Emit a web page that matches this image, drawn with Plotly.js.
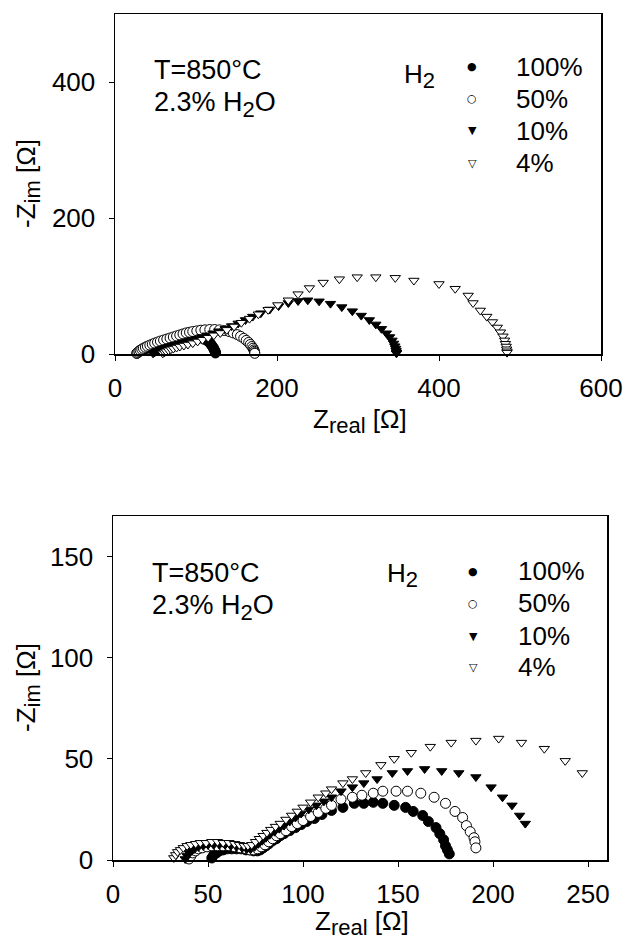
<!DOCTYPE html>
<html>
<head>
<meta charset="utf-8">
<script src="https://cdn.plot.ly/plotly-3.0.1.min.js"></script>
<style>html,body{margin:0;padding:0;background:#fff;}#chart{width:628px;height:942px;}</style>
</head>
<body>
<div id="chart"></div>
<script>
// ---------- data ----------
const legendLabels = ['100%', '50%', '10%', '4%'];

// top panel
const topH100_x = [27,28,29,30,32,34,36,39,42,45,48,52,56,60,64,68,72,76,80,84,88,92,96,100,104,108,111,114,116,118,119.5,121,122,123,123.5,124,124];
const topH100_y = [1,2,3,4,5,6,7,8,9,10,11,12.5,14,15.5,17,18.5,20,21,22,23,24,24.5,25,25,24.5,23,21.5,19.5,17.5,15,12.5,10,7.5,5.5,4,2.5,1.5];

const topH50_x = [27,28,29.5,31,33,35,37.5,40,43,46,49,52.5,56,60,64,68,72,76,80,84,88,92,96,101,106,111,117,123,129,135,141,146,151,155,159,162,165,167,169,170.5,171.5,172,172.5,172.5];
const topH50_y = [1,2.5,4,5.5,7,8.5,10,11.5,13,14.5,16,17.5,19,20.5,22,23.5,25,26.5,28,29.5,31,32,33,34,35,35.5,36,36,35.5,34.5,33,31,28.5,26,23,20,17,14,11,8.5,6,4,2,1];

const topH10_x = [47,49,51,53,56,59,62,66,70,74,79,84,89,95,101,107,114,121,128,136,144,152,161,170,180,191,202,214,226,238,252,266,280,293,304,314,322,329,335,339,342,344,345.5,346.5,347,347.5,347.5];
const topH10_y = [1,2.5,4,5,6.5,8,9,10.5,12,13.5,15,17,18.5,20.5,22.5,25,27.5,30.5,33.5,37,41,45,50,55,60,65.5,70.5,75,78,79,77.5,74,69,63,56.5,50,43.5,37,30.5,25,20,15.5,11.5,8,5,2.5,1];

const topH4_x = [59,61,63,66,69,72,76,80,85,90,96,102,108,115,122,130,138,147,156,166,177,189,201,214,226,240,257,277,299,322,346,369,400,420,436,442,451,459,466,472,476,479,481,482,483,483.5,484,484];
const topH4_y = [1,2.5,4,5.5,7,8,9.5,11,12.5,14,16,18.5,21,24,27.5,31,35.5,40.5,46,52,58.5,65,72,79,88,97,105,110,113,113,112,108,103,96,86,75,64,55,47,39,32,26,20,15,11,7,4,2];

// bottom panel
const botH100_x = [52,53,54.5,56,58,60,62.5,65,67.5,70,72,74,76,77.5,79,80.5,82,84,86,88,90,93,96,99,102,106,110,115,121,127,132,137,142,148,154,158,163,166,170,172,174,175,176,177];
const botH100_y = [1,2.5,3.5,4.5,5,5.5,5.5,5.5,5.5,5,5,4.5,4.5,5,6,7,8,9.5,10.5,12,13,14.5,16,17.5,19,20.5,22.5,24.5,26,28,28,28.5,28,27,26,24,22,19,16,13,10,7,5,3];

const botH50_x = [40,41,42,43.5,45,47,49.5,52,55,58,61,64,67,70,72,74,76,78,80,82,84,86,88,91,94,97,100,104,108,112,115,120,126,131,137,142,149,155,162,169,175,180,184,186,188,190,190.5,191];
const botH50_y = [0.5,2,3.5,4.5,5.5,6,6.5,7,7,7,7,6.5,6,5.5,5,5,5.5,6.5,7.5,9,10.5,12,13,14.5,16.5,18,19.5,21.5,23.5,25.5,27,30,31,32,33,34,34,34,33,31,28,24,21,17,14,11,9,6];

const botH10_x = [38,39,40,41.5,43,45,47.5,50,53,56,59,62,65,68,70.5,72.5,74.5,76.5,78.5,80.5,82.5,85,87.5,90,93,96,99,103,107,111,115,120,126,132,139,147,155,164,173,182,191,199,205,210,214,217];
const botH10_y = [0.5,2,3.5,4.5,5.5,6.5,7,7.5,7.5,7.5,7.5,7,6.5,6,5.5,5.5,6.5,8,9.5,11,12.5,14,15.5,17,19,21,23,25,27,29,31,34,36,38,40,43,44,45,44,43,41,36,31,27,22,18];

const botH4_x = [32,33,34,35.5,37,39,41,43.5,46,49,52,55,58,61,64,66.5,69,71,73,75,77,79,81,83,85.5,88,91,94,97,100,104,108,112,115,121,126,133,141,148,157,167,178,191,203,215,227,238,247];
const botH4_y = [1,2.5,4,5,6,7,7.5,8,8.5,8.5,9,9,8.5,8.5,8,7.5,7,7,7.5,9,10.5,12,13.5,15,16.5,18,20,22,24,26,28.5,31,33,35,38,40,43,47,50,53,56,58,59,60,58,55,49,43];

// ---------- styling ----------
const FONT = 'Liberation Sans, Arial, sans-serif';
const FS = 26;
const styles = [
  {symbol: 'circle', color: '#000', line: '#000'},
  {symbol: 'circle', color: '#fff', line: '#000'},
  {symbol: 'triangle-down', color: '#000', line: '#000'},
  {symbol: 'triangle-down', color: '#fff', line: '#000'}
];
const legendGlyphs = ['\u25CF', '\u25CB', '\u25BC', '\u25BD'];

function mk(x, y, i, xa, ya, size) {
  return {
    type: 'scatter', mode: 'markers', x: x, y: y, name: legendLabels[i],
    xaxis: xa, yaxis: ya, showlegend: false, cliponaxis: false,
    marker: {symbol: styles[i].symbol, color: styles[i].color, size: size,
             line: {color: styles[i].line, width: 1}}
  };
}

const data = [
  mk(topH100_x, topH100_y, 0, 'x', 'y', 10),
  mk(topH50_x, topH50_y, 1, 'x', 'y', 10),
  mk(topH10_x, topH10_y, 2, 'x', 'y', 9),
  mk(topH4_x, topH4_y, 3, 'x', 'y', 9),
  mk(botH100_x, botH100_y, 0, 'x2', 'y2', 10),
  mk(botH50_x, botH50_y, 1, 'x2', 'y2', 10),
  mk(botH10_x, botH10_y, 2, 'x2', 'y2', 9),
  mk(botH4_x, botH4_y, 3, 'x2', 'y2', 9)
];

// page geometry
const W = 628, H = 942;
const M = {l: 60, r: 10, t: 8, b: 8};
const PW = W - M.l - M.r, PH = H - M.t - M.b;
const px = v => (v - M.l) / PW;
const py = v => (H - M.b - v) / PH;

function axisBase(range, dtick, standoff) {
  return {
    range: range, dtick: dtick, tick0: 0, ticks: 'outside', ticklen: 5, tickwidth: 1,
    tickcolor: '#000', showline: true, linecolor: '#000', linewidth: 1.5, mirror: true,
    showgrid: false, zeroline: false, ticklabelstandoff: standoff,
    tickfont: {family: FONT, size: FS, color: '#000'}
  };
}

const SUBSZ = 'font-size:22px';
const xTitle = 'Z<sub><span style="' + SUBSZ + '">real</span></sub> [\u03A9]';
const yTitle = '-Z<sub><span style="' + SUBSZ + '">im</span></sub> [\u03A9]';
const h2 = 'H<sub><span style="' + SUBSZ + '">2</span></sub>';

const layout = {
  width: W, height: H, margin: M, paper_bgcolor: '#fff', plot_bgcolor: '#fff',
  showlegend: false,
  font: {family: FONT, size: FS, color: '#000'},
  xaxis: Object.assign(axisBase([0, 600], 200, 5), {domain: [px(115), px(601)], anchor: 'y'}),
  yaxis: Object.assign(axisBase([0, 500], 200, 8), {domain: [py(354), py(14)], anchor: 'x'}),
  xaxis2: Object.assign(axisBase([0, 260], 50, 5), {domain: [px(113), px(607)], anchor: 'y2'}),
  yaxis2: Object.assign(axisBase([0, 170], 50, 8), {domain: [py(860), py(516)], anchor: 'x2'}),
  annotations: []
};

function txt(x, y, text, size, family, xanchor, angle) {
  layout.annotations.push({xref: 'paper', yref: 'paper', x: px(x), y: py(y), text: text,
    showarrow: false, xanchor: xanchor || 'left', yanchor: 'middle', textangle: angle || 0,
    borderpad: 0,
    font: {family: family || FONT, size: size || FS, color: '#000'}});
}
function glyph(x, y, g) {
  layout.annotations.push({xref: 'paper', yref: 'paper', x: px(x), y: py(y), text: g,
    showarrow: false, xanchor: 'center', yanchor: 'middle', borderpad: 0,
    font: {family: 'DejaVu Sans', size: 11, color: '#000'}});
}

// axis titles
txt(360, 421, xTitle, FS, FONT, 'center');
txt(362, 923, xTitle, FS, FONT, 'center');
txt(28, 184, yTitle, FS, FONT, 'center', -90);
txt(28, 688, yTitle, FS, FONT, 'center', -90);

// top panel annotations
txt(153, 70, 'T=850\u00B0C', 27);
txt(153, 104, '2.3% ' + h2 + 'O', 27);
txt(403, 76, h2);
const topRows = [67, 99, 131, 163];
topRows.forEach((r, i) => { glyph(472, r, legendGlyphs[i]); txt(515, r, legendLabels[i]); });

// bottom panel annotations
txt(151, 573, 'T=850\u00B0C', 27);
txt(151, 607, '2.3% ' + h2 + 'O', 27);
txt(386, 575, h2);
const botRows = [571, 603, 636, 667];
botRows.forEach((r, i) => { glyph(473, r, legendGlyphs[i]); txt(517, r, legendLabels[i]); });

Plotly.newPlot('chart', data, layout, {staticPlot: true, displayModeBar: false});
</script>
</body>
</html>
